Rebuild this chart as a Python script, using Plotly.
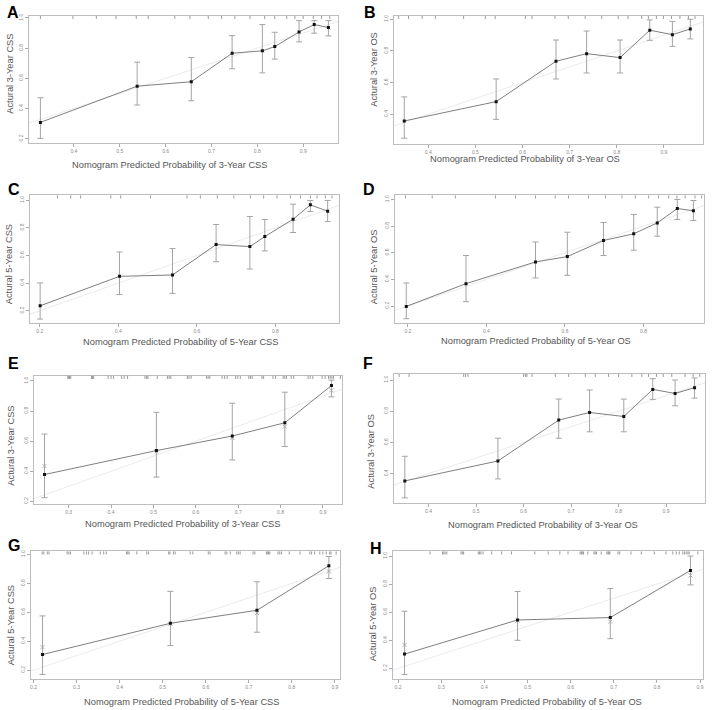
import plotly.graph_objects as go

W, H = 712, 710

# ---------------- data ----------------
# A: 3-year CSS
A_pred = [0.327, 0.538, 0.656, 0.745, 0.811, 0.838, 0.891, 0.924, 0.955]
A_obs = [0.308, 0.548, 0.577, 0.766, 0.782, 0.810, 0.907, 0.956, 0.936]
A_hi = [0.471, 0.707, 0.738, 0.883, 0.956, 0.905, 0.982, 0.982, 0.982]
A_lo = [0.202, 0.423, 0.451, 0.663, 0.636, 0.727, 0.841, 0.899, 0.881]
A_rug = [0.327, 0.398, 0.449, 0.492, 0.536, 0.562, 0.620, 0.653, 0.693, 0.722,
         0.751, 0.784, 0.816, 0.838, 0.864, 0.882, 0.900, 0.922, 0.940, 0.958]

# B: 3-year OS
B_pred = [0.349, 0.544, 0.671, 0.736, 0.807, 0.870, 0.918, 0.956]
B_obs = [0.358, 0.480, 0.735, 0.783, 0.758, 0.931, 0.903, 0.939]
B_hi = [0.510, 0.623, 0.869, 0.926, 0.869, 0.996, 0.987, 1.000]
B_lo = [0.249, 0.368, 0.623, 0.661, 0.661, 0.867, 0.829, 0.876]
B_rug = [0.337, 0.358, 0.387, 0.415, 0.475, 0.521, 0.542, 0.606, 0.620, 0.669,
         0.697, 0.733, 0.768, 0.803, 0.824, 0.853, 0.867, 0.884, 0.899, 0.916,
         0.934, 0.952, 0.966]

# C: 5-year CSS
C_pred = [0.201, 0.403, 0.538, 0.649, 0.735, 0.773, 0.845, 0.889, 0.933]
C_obs = [0.236, 0.449, 0.459, 0.679, 0.664, 0.737, 0.862, 0.966, 0.920]
C_hi = [0.401, 0.625, 0.650, 0.824, 0.882, 0.860, 0.971, 0.998, 0.998]
C_lo = [0.140, 0.318, 0.326, 0.555, 0.502, 0.633, 0.766, 0.918, 0.845]
C_rug = [0.245, 0.279, 0.304, 0.381, 0.406, 0.482, 0.575, 0.609, 0.652, 0.694,
         0.736, 0.770, 0.804, 0.838, 0.864, 0.889, 0.906, 0.927, 0.944]

# D: 5-year OS
D_pred = [0.196, 0.348, 0.525, 0.606, 0.698, 0.775, 0.835, 0.886, 0.927]
D_obs = [0.197, 0.368, 0.531, 0.571, 0.692, 0.742, 0.824, 0.932, 0.915]
D_hi = [0.373, 0.579, 0.681, 0.754, 0.827, 0.887, 0.942, 1.000, 0.992]
D_lo = [0.105, 0.233, 0.411, 0.431, 0.579, 0.619, 0.724, 0.850, 0.842]
D_rug = [0.194, 0.262, 0.321, 0.423, 0.474, 0.525, 0.575, 0.609, 0.660, 0.703,
         0.745, 0.779, 0.813, 0.838, 0.864, 0.885, 0.906, 0.931, 0.948]

# E: 3-year CSS (validation)
E_pred = [0.243, 0.507, 0.686, 0.810, 0.920]
E_obs = [0.378, 0.537, 0.634, 0.722, 0.969]
E_hi = [0.647, 0.791, 0.852, 0.925, 1.005]
E_lo = [0.224, 0.361, 0.475, 0.564, 0.894]
E_corr = [0.434, 0.530, 0.621, 0.696, 0.938]
E_rug = [0.298, 0.300, 0.302, 0.305, 0.354, 0.356, 0.359, 0.393, 0.400, 0.406,
         0.425, 0.431, 0.439, 0.480, 0.484, 0.487, 0.509, 0.533, 0.537, 0.541,
         0.580, 0.584, 0.589, 0.625, 0.629, 0.633, 0.662, 0.668, 0.674, 0.694,
         0.699, 0.705, 0.725, 0.729, 0.733, 0.756, 0.760, 0.782, 0.788, 0.806,
         0.810, 0.814, 0.825, 0.831, 0.865, 0.870, 0.876, 0.898, 0.905, 0.913,
         0.917, 0.921, 0.925, 0.941]

# F: 3-year OS (validation)
F_pred = [0.350, 0.546, 0.674, 0.739, 0.811, 0.872, 0.919, 0.960]
F_obs = [0.353, 0.481, 0.743, 0.792, 0.766, 0.940, 0.914, 0.951]
F_hi = [0.511, 0.627, 0.878, 0.936, 0.878, 1.009, 1.000, 1.013]
F_lo = [0.244, 0.366, 0.627, 0.668, 0.668, 0.876, 0.835, 0.884]
F_rug = [0.338, 0.359, 0.474, 0.478, 0.483, 0.600, 0.604, 0.607, 0.618, 0.667,
         0.695, 0.730, 0.751, 0.779, 0.800, 0.828, 0.849, 0.863, 0.880, 0.894,
         0.912, 0.940, 0.957, 0.971]

# G: 5-year CSS (validation)
G_pred = [0.221, 0.518, 0.719, 0.886]
G_obs = [0.308, 0.524, 0.614, 0.922]
G_hi = [0.575, 0.745, 0.811, 0.986]
G_lo = [0.170, 0.370, 0.462, 0.834]
G_corr = [0.359, 0.520, 0.595, 0.883]
G_rug = [0.220, 0.224, 0.232, 0.236, 0.278, 0.282, 0.286, 0.317, 0.323, 0.328,
         0.336, 0.355, 0.363, 0.369, 0.416, 0.419, 0.422, 0.440, 0.463, 0.467,
         0.514, 0.517, 0.525, 0.529, 0.564, 0.570, 0.606, 0.610, 0.645, 0.649,
         0.657, 0.672, 0.676, 0.680, 0.710, 0.714, 0.741, 0.744, 0.746, 0.749,
         0.768, 0.772, 0.776, 0.794, 0.819, 0.842, 0.846, 0.853, 0.865, 0.872,
         0.880, 0.888, 0.891, 0.903]

# H: 5-year OS (validation)
H_pred = [0.215, 0.477, 0.692, 0.878]
H_obs = [0.302, 0.545, 0.562, 0.898]
H_hi = [0.607, 0.748, 0.769, 1.000]
H_lo = [0.157, 0.400, 0.412, 0.795]
H_corr = [0.367, 0.540, 0.533, 0.862]
H_rug = [0.274, 0.303, 0.306, 0.309, 0.313, 0.346, 0.349, 0.352, 0.386, 0.389,
         0.392, 0.397, 0.417, 0.440, 0.463, 0.517, 0.548, 0.575, 0.594, 0.622,
         0.625, 0.627, 0.630, 0.640, 0.654, 0.657, 0.660, 0.671, 0.684, 0.687,
         0.689, 0.691, 0.710, 0.714, 0.740, 0.764, 0.794, 0.821, 0.837, 0.845,
         0.852, 0.860, 0.864, 0.868, 0.872, 0.875, 0.895]

x_titles = ["Nomogram Predicted Probability of 3-Year CSS",
            "Nomogram Predicted Probability of 3-Year OS",
            "Nomogram Predicted Probability of 5-Year CSS",
            "Nomogram Predicted Probability of 5-Year OS",
            "Nomogram Predicted Probability of 3-Year CSS",
            "Nomogram Predicted Probability of 3-Year OS",
            "Nomogram Predicted Probability of 5-Year CSS",
            "Nomogram Predicted Probability of 5-Year OS"]
y_titles = ["Actural 3-Year CSS", "Actural 3-Year OS",
            "Actural 5-Year CSS", "Actural 5-Year OS",
            "Actural 3-Year CSS", "Actural 3-Year OS",
            "Actural 5-Year CSS", "Actural 5-Year OS"]
letters = ["A", "B", "C", "D", "E", "F", "G", "H"]

x_ticks = [[0.4, 0.5, 0.6, 0.7, 0.8, 0.9], [0.4, 0.5, 0.6, 0.7, 0.8, 0.9],
           [0.2, 0.4, 0.6, 0.8], [0.2, 0.4, 0.6, 0.8],
           [0.3, 0.4, 0.5, 0.6, 0.7, 0.8, 0.9], [0.4, 0.5, 0.6, 0.7, 0.8, 0.9],
           [0.2, 0.3, 0.4, 0.5, 0.6, 0.7, 0.8, 0.9],
           [0.2, 0.3, 0.4, 0.5, 0.6, 0.7, 0.8, 0.9]]
y_ticks = [[0.2, 0.4, 0.6, 0.8, 1.0], [0.4, 0.6, 0.8, 1.0],
           [0.2, 0.4, 0.6, 0.8, 1.0], [0.2, 0.4, 0.6, 0.8, 1.0],
           [0.2, 0.4, 0.6, 0.8, 1.0], [0.4, 0.6, 0.8, 1.0],
           [0.2, 0.4, 0.6, 0.8, 1.0], [0.2, 0.4, 0.6, 0.8, 1.0]]
x_ranges = [[0.302, 0.976], [0.327, 0.983], [0.175, 0.962], [0.167, 0.954],
            [0.218, 0.945], [0.327, 0.982], [0.194, 0.912], [0.188, 0.907]]
y_ranges = [[0.174, 1.013], [0.215, 1.021], [0.111, 1.034], [0.072, 1.030],
            [0.185, 1.033], [0.214, 1.039], [0.138, 1.021], [0.124, 1.033]]

series = [
    (A_pred, A_obs, A_lo, A_hi, None, A_rug),
    (B_pred, B_obs, B_lo, B_hi, None, B_rug),
    (C_pred, C_obs, C_lo, C_hi, None, C_rug),
    (D_pred, D_obs, D_lo, D_hi, None, D_rug),
    (E_pred, E_obs, E_lo, E_hi, E_corr, E_rug),
    (F_pred, F_obs, F_lo, F_hi, None, F_rug),
    (G_pred, G_obs, G_lo, G_hi, G_corr, G_rug),
    (H_pred, H_obs, H_lo, H_hi, H_corr, H_rug),
]

# ---------------- layout geometry (pixels) ----------------
boxes = [  # x0, x1, ytop, ybottom
    (28, 338, 14, 141), (394, 704, 14, 142),
    (29, 339, 194, 322), (395, 705, 194, 322),
    (33, 342, 375, 503), (394, 706, 373, 502),
    (30, 340, 551, 679), (393, 704, 551, 679),
]
xtitle_pos = [(169, 163), (525, 157), (181, 341), (537, 340),
              (183, 523), (544, 524), (182, 702), (548, 702)]
ytitle_pos = [(9, 72), (374, 67), (8, 263), (374, 265),
              (10, 445), (371, 450), (10, 625), (373, 623)]
letter_pos = [(4, 0), (362, 0), (5, 177), (361, 177),
              (5, 352), (361, 352), (5, 535), (368, 538)]

FONT = "Liberation Sans, Arial, sans-serif"
fig = go.Figure()
shapes = []
annotations = []
layout_axes = {}

for i, (pred, obs, lo, hi, corr, rug) in enumerate(series):
    n = i + 1
    xa = "x" if n == 1 else f"x{n}"
    ya = "y" if n == 1 else f"y{n}"
    x0, x1, yt, yb = boxes[i]

    # ideal reference line
    xr = x_ranges[i]
    fig.add_trace(go.Scatter(x=xr, y=xr, mode="lines",
                             line=dict(color="#ebebeb", width=1),
                             xaxis=xa, yaxis=ya, hoverinfo="skip"))
    # bias corrected marks
    if corr is not None:
        fig.add_trace(go.Scatter(x=pred, y=corr, mode="markers",
                                 marker=dict(symbol="x-thin", size=4,
                                             line=dict(color="#b0b0b0", width=1)),
                                 xaxis=xa, yaxis=ya, hoverinfo="skip"))
    # observed with error bars
    fig.add_trace(go.Scatter(
        x=pred, y=obs, mode="lines+markers",
        line=dict(color="#7f7f7f", width=1),
        marker=dict(symbol="square", size=3, color="#111111"),
        error_y=dict(type="data", symmetric=False,
                     array=[h - o for h, o in zip(hi, obs)],
                     arrayminus=[o - l for o, l in zip(obs, lo)],
                     color="#a4a4a4", thickness=1, width=3),
        xaxis=xa, yaxis=ya))

    # rug marks on top edge
    for r in rug:
        shapes.append(dict(type="line", xref=xa, yref=f"{ya} domain",
                           x0=r, x1=r, y0=1, y1=1 - 3.0 / (yb - yt),
                           line=dict(color="#808080", width=0.8)))

    axis_common = dict(showgrid=False, zeroline=False, showline=True,
                       mirror=True, linecolor="#bdbdbd", linewidth=1,
                       ticks="outside", ticklen=3, tickcolor="#aaaaaa",
                       tickwidth=1,
                       tickfont=dict(size=5, color="#8a8a8a", family=FONT),
                       tickformat=".1f")
    key_x = "xaxis" if n == 1 else f"xaxis{n}"
    key_y = "yaxis" if n == 1 else f"yaxis{n}"
    layout_axes[key_x] = dict(axis_common, domain=[x0 / W, x1 / W],
                              range=x_ranges[i], tickvals=x_ticks[i],
                              anchor=ya)
    layout_axes[key_y] = dict(axis_common, domain=[1 - yb / H, 1 - yt / H],
                              range=y_ranges[i], tickvals=y_ticks[i],
                              anchor=xa, tickangle=-90)

    tx, ty = xtitle_pos[i]
    annotations.append(dict(text=x_titles[i], x=tx / W, y=1 - ty / H,
                            xref="paper", yref="paper", showarrow=False,
                            xanchor="center", yanchor="middle",
                            font=dict(size=9.3, color="#555555", family=FONT)))
    vx, vy = ytitle_pos[i]
    annotations.append(dict(text=y_titles[i], x=vx / W, y=1 - vy / H,
                            xref="paper", yref="paper", showarrow=False,
                            xanchor="center", yanchor="middle", textangle=-90,
                            font=dict(size=9.3, color="#555555", family=FONT)))
    lx, ly = letter_pos[i]
    annotations.append(dict(text=f"<b>{letters[i]}</b>", x=lx / W, y=1 - ly / H,
                            xref="paper", yref="paper", showarrow=False,
                            xanchor="left", yanchor="top",
                            font=dict(size=16, color="#000000", family=FONT)))

fig.update_layout(width=W, height=H, margin=dict(l=0, r=0, t=0, b=0),
                  paper_bgcolor="white", plot_bgcolor="white",
                  showlegend=False, shapes=shapes, annotations=annotations,
                  font=dict(family=FONT), **layout_axes)

fig.write_html("out.html", config={"displayModeBar": False},
               post_script="document.body.style.margin='0px';"
                           "document.body.style.overflow='hidden';")
